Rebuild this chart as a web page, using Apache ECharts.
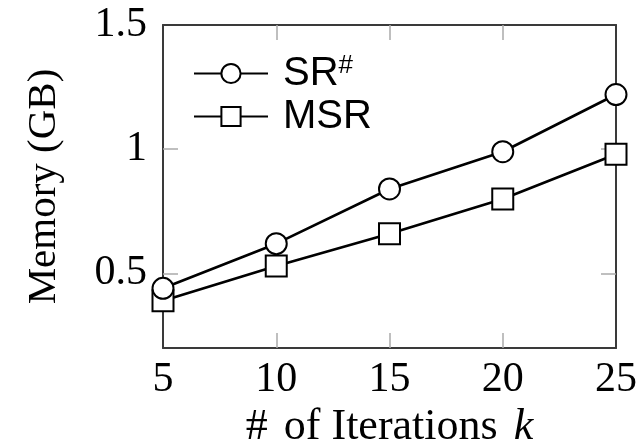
<!DOCTYPE html>
<html><head><meta charset="utf-8">
<script src="https://cdn.jsdelivr.net/npm/echarts@6/dist/echarts.min.js"></script>
<style>html,body{margin:0;padding:0;background:#fff}#c{width:640px;height:443px}</style>
</head><body><div id="c"></div>
<script>
var iterations = [5, 10, 15, 20, 25];
var srSharp = [0.44, 0.62, 0.84, 0.99, 1.22];
var msr = [0.39, 0.53, 0.66, 0.80, 0.98];
var yTickLabels = [0.5, 1, 1.5];
var yTicks = [0.5, 1];
var xTicks = [10, 15, 20];

function pairs(xs, ys){ return xs.map(function(x,i){return [x, ys[i]];}); }

var serif = 'Liberation Serif';
var sans = 'Liberation Sans';
var frame = {show:true, onZero:false, lineStyle:{color:'#3a3a3a', width:2}};
var tickStyle = {show:true, inside:true, length:15, lineStyle:{color:'#aaaaaa', width:1.5}};

var chart = echarts.init(document.getElementById('c'), null, {renderer:'canvas'});
chart.setOption({
  animation:false,
  backgroundColor:'#fff',
  grid:{left:163, right:24, top:25, bottom:95, containLabel:false, outerBoundsMode:'none'},
  legend:{
    left:193, top:52, padding:0, orient:'vertical', itemWidth:74, itemHeight:24, itemGap:0,
    textStyle:{fontFamily:sans, fontSize:40, color:'#000', padding:[0,0,0,10], lineHeight:43,
      rich:{t:{fontFamily:sans, fontSize:40, color:'#000', lineHeight:43},
            s:{fontFamily:sans, fontSize:26, color:'#000', lineHeight:43, padding:[0,0,16,0]}}},
    formatter:function(n){ if(n==='SR#') return '{t|SR}{s|#}'; return '{t|'+n+'}'; },
    data:['SR#','MSR']
  },
  xAxis:[{
    type:'value', min:5, max:25, interval:5, position:'bottom',
    axisLine:frame, axisTick:Object.assign({customValues:xTicks}, tickStyle),
    splitLine:{show:false},
    axisLabel:{fontFamily:serif, fontSize:42, color:'#000', margin:11, customValues:iterations},
    name:'{h|#}{a|of Iterations}{k|k}', nameLocation:'middle', nameGap:56,
    nameTextStyle:{rich:{
      h:{fontFamily:serif, fontSize:44, color:'#000', padding:[0,16,0,0]},
      a:{fontFamily:serif, fontSize:44, color:'#000'},
      k:{fontFamily:serif, fontStyle:'italic', fontSize:44, color:'#000', padding:[0,0,0,16]}}}
  },{
    type:'value', min:5, max:25, interval:5, position:'top',
    axisLine:frame, axisTick:Object.assign({customValues:xTicks}, tickStyle),
    axisLabel:{show:false}, splitLine:{show:false}
  }],
  yAxis:[{
    type:'value', min:0.2, max:1.5, position:'left',
    axisLine:frame, axisTick:Object.assign({customValues:yTicks}, tickStyle),
    splitLine:{show:false},
    axisLabel:{fontFamily:serif, fontSize:42, color:'#000', margin:16, customValues:yTickLabels,
      formatter:function(v){return String(Math.round(v*10)/10);}},
    name:'Memory (GB)', nameLocation:'middle', nameGap:98, nameRotate:90,
    nameTextStyle:{fontFamily:serif, fontSize:41, color:'#000'}
  },{
    type:'value', min:0.2, max:1.5, position:'right',
    axisLine:frame, axisTick:Object.assign({customValues:yTicks}, tickStyle),
    axisLabel:{show:false}, splitLine:{show:false}
  }],
  series:[{
    name:'SR#', type:'line', data:pairs(iterations, srSharp),
    symbol:'emptyCircle', symbolSize:21, color:'#000',
    lineStyle:{color:'#000', width:2.7}, itemStyle:{color:'#000', borderWidth:2.7}, z:3
  },{
    name:'MSR', type:'line', data:pairs(iterations, msr),
    symbol:'emptyRect', symbolSize:21, color:'#000',
    lineStyle:{color:'#000', width:2.7}, itemStyle:{color:'#000', borderWidth:2.7}, z:2
  }]
});
</script></body></html>
